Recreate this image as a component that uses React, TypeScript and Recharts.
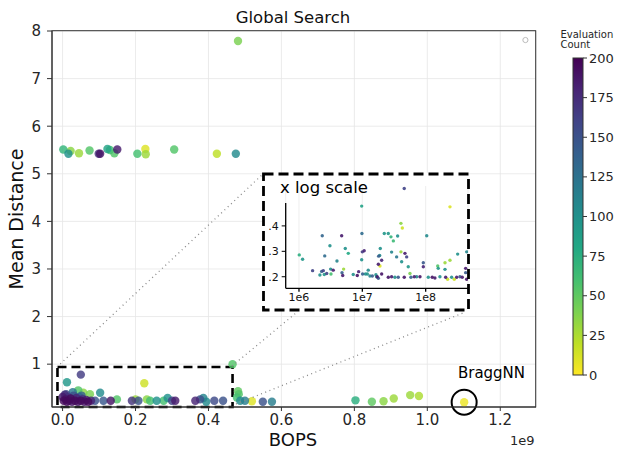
import React from 'react'
import {
  ScatterChart, Scatter, XAxis, YAxis, CartesianGrid, ReferenceArea, ReferenceDot, ReferenceLine,
} from 'recharts'

const FONT = 'DejaVu Sans, sans-serif'
const INK = '#262626'

// main panel: BOPS (x1e9), mean distance, evaluation count
const mainBops = [
  0.002, 0.016, 0.022, 0.045, 0.074, 0.099, 0.103, 0.123, 0.130, 0.142, 0.150, 0.205, 0.227, 0.228, 0.306, 0.423, 0.475, 0.481,
  0.012, 0.050, 0.224, 0.466, 0.481, 0.483, 0.478, 0.043, 0.057, 0.075, 0.103, 0.010, 0.052, 0.028,
  0.000, 0.003, 0.006, 0.008, 0.012, 0.015, 0.018, 0.022, 0.026, 0.030, 0.034, 0.038, 0.042, 0.046, 0.050, 0.055, 0.060, 0.065, 0.070, 0.078,
  0.089, 0.112, 0.132, 0.149, 0.190, 0.200, 0.208, 0.231, 0.240, 0.258, 0.277, 0.288, 0.300, 0.309, 0.364, 0.377, 0.386, 0.394, 0.416, 0.440,
  0.487, 0.500, 0.519, 0.549, 0.574,
  0.803, 0.848, 0.880, 0.908, 0.953, 0.977, 1.101,
]
const mainDist = [
  5.51, 5.42, 5.48, 5.43, 5.49, 5.42, 5.42, 5.52, 5.50, 5.43, 5.51, 5.42, 5.52, 5.41, 5.51, 5.42, 5.42, 7.79,
  0.62, 0.78, 0.60, 1.00, 0.43, 0.37, 0.30, 0.45, 0.40, 0.37, 0.40, 0.37, 0.34, 0.41,
  0.31, 0.23, 0.36, 0.26, 0.21, 0.31, 0.23, 0.28, 0.21, 0.34, 0.23, 0.29, 0.21, 0.31, 0.23, 0.27, 0.21, 0.25, 0.21, 0.23,
  0.23, 0.23, 0.23, 0.26, 0.23, 0.26, 0.23, 0.26, 0.23, 0.23, 0.23, 0.29, 0.23, 0.23, 0.23, 0.26, 0.29, 0.21, 0.23, 0.23,
  0.23, 0.23, 0.22, 0.21, 0.21,
  0.24, 0.21, 0.22, 0.28, 0.35, 0.33, 0.20,
]
const mainCount = [
  70, 100, 35, 30, 55, 170, 190, 85, 60, 55, 185, 60, 10, 30, 55, 20, 105, 40,
  95, 165, 15, 55, 50, 55, 60, 55, 35, 40, 105, 150, 140, 120,
  185, 195, 175, 190, 195, 160, 185, 195, 190, 150, 195, 180, 190, 135, 195, 170, 190, 185, 195, 180,
  150, 145, 190, 55, 170, 30, 150, 35, 60, 100, 60, 100, 160, 185, 180, 150, 110, 105, 155, 150,
  105, 115, 10, 150, 115,
  75, 50, 35, 30, 30, 25, 5,
]

// inset: BOPS (raw), mean distance, evaluation count
const insetBops = [
  1.01e6, 1.14e6, 1.64e6, 2.33e6, 2.55e6, 2.14e6, 2.28e6, 2.42e6, 2.51e6, 2.74e6, 3.08e6, 3.16e6, 3.2e6, 3.47e6, 3.98e6,
  4.72e6, 5.07e6, 4.78e6, 4.9e6, 5.38e6, 6.0e6, 7.19e6, 8.32e6, 8.75e6, 9.77e6, 9.86e6, 1.0e7, 1.07e7, 9.77e6, 1.01e7,
  1.12e7, 1.24e7, 1.2e7, 1.32e7, 1.44e7, 1.64e7, 1.72e7, 1.81e7, 1.79e7, 1.92e7, 1.88e7, 2.02e7, 1.9e7, 1.68e7, 1.79e7,
  2.02e7, 2.22e7, 2.57e7, 2.83e7, 3.09e7, 3.61e7, 2.9e7, 3.48e7, 4.07e7, 4.28e7, 4.07e7, 4.71e7, 5.01e7, 4.18e7, 5.31e7,
  4.59e7, 2.9e7, 2.57e7, 3.27e7, 3.69e7, 4.59e7, 5.65e7, 5.86e7, 6.61e7, 7.21e7, 8.13e7, 9.18e7, 9.18e7, 1.04e8, 1.1e8,
  1.27e8, 1.4e8, 1.55e8, 1.58e8, 2.02e8, 2.02e8, 2.42e8, 2.42e8, 3.2e8, 4.44e8, 4.28e8, 4.28e8, 2.07e8, 2.22e8, 2.57e8,
  2.83e8, 3.09e8, 3.48e8, 3.78e8, 4.44e8, 1.68e8,
]
const insetDist = [
  0.286, 0.269, 0.224, 0.361, 0.282, 0.207, 0.221, 0.224, 0.209, 0.213, 0.322, 0.230, 0.211, 0.226, 0.262,
  0.361, 0.230, 0.216, 0.205, 0.311, 0.292, 0.209, 0.205, 0.220, 0.478, 0.370, 0.298, 0.302, 0.267, 0.211,
  0.211, 0.226, 0.211, 0.203, 0.203, 0.208, 0.200, 0.281, 0.249, 0.311, 0.284, 0.265, 0.242, 0.200, 0.194,
  0.211, 0.370, 0.370, 0.357, 0.341, 0.360, 0.297, 0.278, 0.410, 0.392, 0.298, 0.292, 0.278, 0.259, 0.239,
  0.547, 0.200, 0.198, 0.198, 0.198, 0.198, 0.213, 0.198, 0.200, 0.200, 0.200, 0.255, 0.239, 0.361, 0.198,
  0.198, 0.195, 0.242, 0.233, 0.229, 0.255, 0.265, 0.475, 0.289, 0.298, 0.233, 0.216, 0.198, 0.190, 0.198,
  0.190, 0.198, 0.200, 0.198, 0.190, 0.200,
]
const insetCount = [
  75, 95, 160, 135, 130, 100, 140, 160, 95, 160, 100, 105, 60, 185, 110,
  185, 30, 140, 185, 100, 80, 100, 190, 180, 85, 130, 165, 180, 100, 140,
  100, 105, 95, 110, 140, 100, 185, 140, 185, 100, 105, 180, 10, 100, 145,
  190, 95, 95, 70, 65, 100, 110, 120, 35, 15, 30, 185, 160, 100, 95,
  160, 185, 190, 100, 145, 190, 40, 140, 185, 105, 190, 145, 180, 105, 100,
  190, 185, 55, 95, 100, 30, 30, 10, 100, 110, 185, 145, 185, 15, 100,
  15, 185, 145, 185, 190, 100,
]

const xTicks = [0, 0.2, 0.4, 0.6, 0.8, 1.0, 1.2]
const yTicks = [1, 2, 3, 4, 5, 6, 7, 8]
const insetXTicks = [1e6, 1e7, 1e8]
const insetYTicks = [0.2, 0.3, 0.4]
const cbarTicks = [0, 25, 50, 75, 100, 125, 150, 175, 200]
const braggnn = { bops: 1.101, dist: 0.2 }
const strayMarker = [{ x: 1.269, y: 7.81 }]

const VIRIDIS = ['#440154', '#482475', '#414487', '#355f8d', '#2a788e', '#21918c', '#22a884', '#44bf70', '#7ad151', '#bddf26', '#fde725']

// reversed viridis: 0 evaluations -> yellow, 200 -> purple
function viridisR(count: number) {
  const t = 1 - Math.min(Math.max(count / 200, 0), 1)
  const p = t * 10
  const i = Math.min(Math.floor(p), 9)
  const f = p - i
  const a = VIRIDIS[i], b = VIRIDIS[i + 1]
  const ch = (h: string, k: number) => parseInt(h.slice(1 + 2 * k, 3 + 2 * k), 16)
  const c = [0, 1, 2].map((k) => Math.round(ch(a, k) + (ch(b, k) - ch(a, k)) * f))
  return `rgb(${c[0]},${c[1]},${c[2]})`
}

const byCount = (xs: number[], ys: number[], cs: number[]) =>
  xs.map((x, i) => ({ x, y: ys[i], count: cs[i] })).sort((a, b) => a.count - b.count)

const mainData = byCount(mainBops, mainDist, mainCount)
const insetData = byCount(insetBops, insetDist, insetCount)

const mainDot = (p: any) => <circle cx={p.cx} cy={p.cy} r={4.2} fill={viridisR(p.payload.count)} fillOpacity={0.82} />
const insetDot = (p: any) => <circle cx={p.cx} cy={p.cy} r={1.7} fill={viridisR(p.payload.count)} fillOpacity={0.9} />
const hollowDot = (p: any) => <circle cx={p.cx} cy={p.cy} r={2.6} fill="none" stroke="#bbb" strokeWidth={1} />

const tickStyle = { fill: INK, fontSize: 15, fontFamily: FONT }
const insetTick = { fill: '#111', fontSize: 11, fontFamily: FONT }

const CB = { x: 573, top: 58, bottom: 375, w: 10 }

export default function App() {
  const cbY = (v: number) => CB.bottom - (v / 200) * (CB.bottom - CB.top)
  return (
    <div style={{ position: 'absolute', left: 0, top: 0, width: 621, height: 450, background: '#fff', fontFamily: FONT }}>
      <ScatterChart width={621} height={450} margin={{ top: 31, right: 85, bottom: 0, left: 22 }}>
        <CartesianGrid stroke="#e6e6e6" strokeWidth={0.8} />
        <XAxis
          type="number" dataKey="x" domain={[-0.029, 1.298]} allowDataOverflow ticks={xTicks} interval={0}
          tickFormatter={(v: number) => v.toFixed(1)} height={43} stroke="#333" tickSize={4} tickMargin={3}
          tick={tickStyle}
        />
        <YAxis
          type="number" dataKey="y" domain={[0.1, 8]} allowDataOverflow ticks={yTicks} interval={0}
          width={30} stroke="#333" tickSize={5} tickMargin={6} tick={tickStyle}
        />
        <Scatter data={mainData} shape={mainDot} isAnimationActive={false} />
        <Scatter data={strayMarker} shape={hollowDot} isAnimationActive={false} />
        <ReferenceArea
          x1={-0.014} x2={0.466} y1={0.1} y2={0.94} ifOverflow="visible"
          fill="none" stroke="#000" strokeWidth={2.6} strokeDasharray="9 5"
        />
        <ReferenceDot
          x={braggnn.bops} y={braggnn.dist} r={12.5} ifOverflow="visible"
          fill="none" stroke="#000" strokeWidth={2}
        />
      </ScatterChart>

      <svg width={621} height={450} style={{ position: 'absolute', left: 0, top: 0, pointerEvents: 'none' }}>
        <defs>
          <linearGradient id="cbar" x1="0" y1="0" x2="0" y2="1">
            {VIRIDIS.map((c, i) => <stop key={i} offset={i / 10} stopColor={c} />)}
          </linearGradient>
        </defs>
        <rect x={52} y={30.7} width={483.7} height={376.3} fill="none" stroke="#333" strokeWidth={1} />
        <g stroke="#8a8a8a" strokeWidth={1.3} strokeDasharray="1 3.5" fill="none">
          <line x1={57} y1={367} x2={263} y2={174} />
          <line x1={232} y1={366} x2={296} y2={313} />
          <line x1={236} y1={404} x2={463} y2={313} />
        </g>
        <text x={293} y={22.5} textAnchor="middle" fontSize={16.5} fill="#111">Global Search</text>
        <text x={293} y={446} textAnchor="middle" fontSize={18} fill="#111">BOPS</text>
        <text x={23} y={219} textAnchor="middle" fontSize={19} fill="#111" transform="rotate(-90 23 219)">Mean Distance</text>
        <text x={510} y={445} fontSize={13} fill={INK}>1e9</text>
        <text x={491.5} y={378} textAnchor="middle" fontSize={15} fill="#000">BraggNN</text>

        <text x={560.5} y={38} fontSize={10} fill={INK}>Evaluation</text>
        <text x={560.5} y={48} fontSize={10} fill={INK}>Count</text>
        <rect x={CB.x} y={CB.top} width={CB.w} height={CB.bottom - CB.top} fill="url(#cbar)" stroke="#333" strokeWidth={1} />
        {cbarTicks.map((v) => (
          <g key={v}>
            <line x1={CB.x + CB.w} x2={CB.x + CB.w + 4} y1={cbY(v)} y2={cbY(v)} stroke="#333" strokeWidth={1} />
            <text x={CB.x + CB.w + 6} y={cbY(v)} dominantBaseline="central" fontSize={13} fill={INK}>{v}</text>
          </g>
        ))}
      </svg>

      <div style={{ position: 'absolute', left: 263, top: 173, width: 206, height: 137, background: '#fff' }}>
        <ScatterChart width={206} height={137} margin={{ top: 13, right: 1, bottom: 0, left: 0 }}>
          <CartesianGrid horizontal={false} stroke="#e8e8e8" strokeWidth={0.8} />
          <XAxis
            type="number" dataKey="x" scale="log" domain={[6.17e5, 4.66e8]} allowDataOverflow
            ticks={insetXTicks} interval={0} tickFormatter={(v: number) => '1e' + Math.round(Math.log10(v))}
            height={21.7} stroke="#000" strokeWidth={1.3} tickSize={3.5} tickMargin={1} tick={insetTick}
          />
          <YAxis
            type="number" dataKey="y" domain={[0.1545, 0.557]} allowDataOverflow ticks={insetYTicks} interval={0}
            tickFormatter={(v: number) => '.' + Math.round(v * 10)} width={22.7} axisLine={false}
            stroke="#000" tickSize={4} tickMargin={3} tick={insetTick}
          />
          <ReferenceLine
            segment={[{ x: 6.17e5, y: 0.1545 }, { x: 6.17e5, y: 0.49 }]} ifOverflow="visible"
            stroke="#000" strokeWidth={1.3}
          />
          <Scatter data={insetData} shape={insetDot} isAnimationActive={false} />
        </ScatterChart>
      </div>

      <svg width={621} height={450} style={{ position: 'absolute', left: 0, top: 0, pointerEvents: 'none' }}>
        <rect x={263.5} y={174} width={205} height={136} fill="none" stroke="#000" strokeWidth={2.8} strokeDasharray="10 5" />
        <text x={280} y={193} fontSize={16.5} fill="#000">x log scale</text>
      </svg>
    </div>
  )
}
